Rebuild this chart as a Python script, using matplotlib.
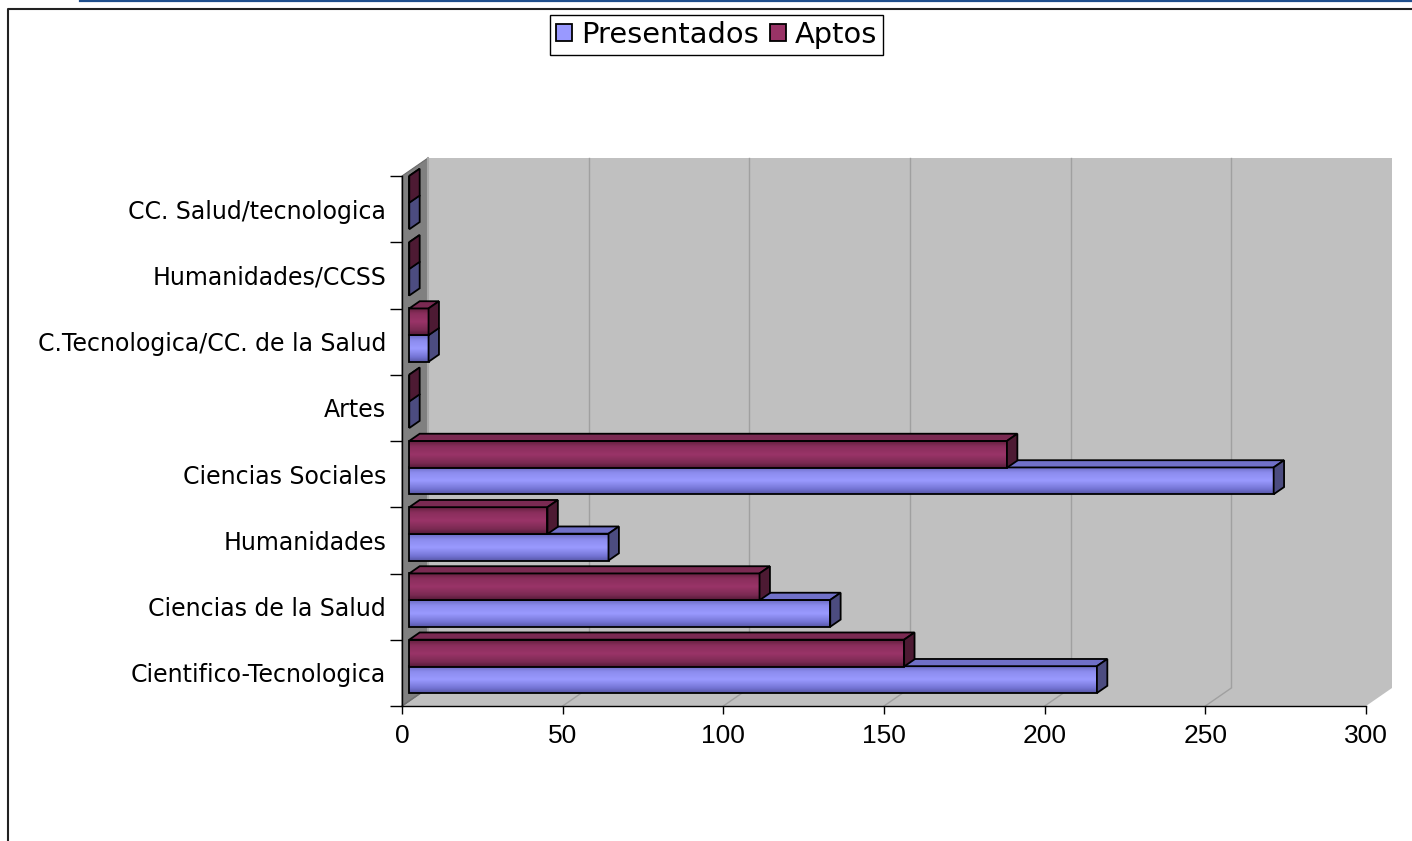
import numpy as np
import matplotlib
matplotlib.use("Agg")
import matplotlib.pyplot as plt
from matplotlib.patches import Polygon, Rectangle, Patch
from matplotlib.colors import LinearSegmentedColormap
from matplotlib.lines import Line2D

# ---------------- data ----------------
categories = ["Cientifico-Tecnologica", "Ciencias de la Salud", "Humanidades",
              "Ciencias Sociales", "Artes", "C.Tecnologica/CC. de la Salud",
              "Humanidades/CCSS", "CC. Salud/tecnologica"]
presentados = [214, 131, 62, 269, 0, 6, 0, 0]
aptos = [154, 109, 43, 186, 0, 6, 0, 0]
series_names = ["Presentados", "Aptos"]
xticks = [0, 50, 100, 150, 200, 250, 300]

# ---------------- styles ----------------
W, H = 1412, 841
fig = plt.figure(figsize=(W / 100, H / 100), dpi=100)
fig.patch.set_facecolor("white")

L, R, T, B = 402, 1366, 176, 706          # front plane, pixels
ax = fig.add_axes([L / W, 1 - B / H, (R - L) / W, (B - T) / H])
XMAX = xticks[-1]
N = len(categories)
ax.set_xlim(0, XMAX)
ax.set_ylim(-0.5, N - 0.5)
ax.patch.set_visible(False)

DX = XMAX * 26 / (R - L)     # full depth in data units
DY = N * 18 / (B - T)

wall_c = "#c0c0c0"
side_wall_c = "#808080"
grid_c = "#a0a0a0"

# back wall
ax.add_patch(Rectangle((DX, -0.5 + DY), XMAX, N, facecolor=wall_c,
                       edgecolor="none", zorder=0, clip_on=False))
# left wall
ax.add_patch(Polygon([(0, -0.5), (0, N - 0.5), (DX, N - 0.5 + DY), (DX, -0.5 + DY)],
                     closed=True, facecolor=side_wall_c, edgecolor="#6a6a6a",
                     lw=0.8, zorder=0.5, clip_on=False))
# floor
ax.add_patch(Polygon([(0, -0.5), (XMAX, -0.5), (XMAX + DX, -0.5 + DY), (DX, -0.5 + DY)],
                     closed=True, facecolor=wall_c, edgecolor="none",
                     zorder=0.4, clip_on=False))
ax.plot([0, DX], [-0.5, -0.5 + DY], color="#707070", lw=1, zorder=0.6, clip_on=False)
ax.plot([DX, DX], [-0.5 + DY, N - 0.5 + DY], color="#a8a8a8", lw=1.5, zorder=0.6,
        clip_on=False)
for xv in xticks[1:-1]:
    ax.plot([xv + DX, xv + DX], [-0.5 + DY, N - 0.5 + DY], color=grid_c, lw=1,
            zorder=0.3, clip_on=False)
    ax.plot([xv, xv + DX], [-0.5, -0.5 + DY], color=grid_c, lw=1, zorder=0.45,
            clip_on=False)

# bar colours
cmap_p = LinearSegmentedColormap.from_list(
    "p", [(0, "#5656a6"), (0.18, "#7474d4"), (0.5, "#9a9aff"), (0.8, "#8c8cee"), (1, "#6c6cc4")])
cmap_a = LinearSegmentedColormap.from_list(
    "a", [(0, "#541a38"), (0.18, "#7a2a52"), (0.5, "#9a3468"), (0.8, "#8a2e5c"), (1, "#64203f")])
styles = [
    dict(vals=presentados, off=-0.38, front="#9999ff", top="#7070c8", side="#4c4c80", cmap=cmap_p),
    dict(vals=aptos, off=0.02, front="#993366", top="#7a2a52", side="#4d1a33", cmap=cmap_a),
]
grad = np.linspace(0, 1, 64).reshape(-1, 1)

d1, d2 = 0.28, 0.68
hb = 0.405
ddx, ddy = (d2 - d1) * DX, (d2 - d1) * DY
z = 10
for i in range(N):
    for st in styles:
        v = st["vals"][i]
        x0 = d1 * DX
        y0 = i + st["off"] + d1 * DY
        y1 = y0 + hb
        bar = ax.barh(y0 + hb / 2, v, height=hb, left=x0, facecolor="none",
                      edgecolor="black", lw=1.3, zorder=z + 0.2)[0]
        if v > 0:
            im = ax.imshow(grad, extent=[x0, x0 + v, y0, y1], origin="lower",
                           aspect="auto", cmap=st["cmap"], zorder=z + 0.1,
                           interpolation="bilinear")
            im.set_clip_path(bar)
        ax.add_patch(Polygon([(x0, y1), (x0 + v, y1), (x0 + v + ddx, y1 + ddy), (x0 + ddx, y1 + ddy)],
                             closed=True, facecolor=st["top"], edgecolor="black",
                             lw=1.3, zorder=z + 0.3, clip_on=False))
        ax.add_patch(Polygon([(x0 + v, y0), (x0 + v + ddx, y0 + ddy), (x0 + v + ddx, y1 + ddy), (x0 + v, y1)],
                             closed=True, facecolor=st["side"], edgecolor="black",
                             lw=1.3, zorder=z + 0.3, clip_on=False))
        z += 1

ax.set_xlim(0, XMAX)
ax.set_ylim(-0.5, N - 0.5)

# axes / ticks
for s in ["top", "right"]:
    ax.spines[s].set_visible(False)
for s in ["left", "bottom"]:
    ax.spines[s].set_color("black")
    ax.spines[s].set_linewidth(1.0)
    ax.spines[s].set_zorder(5)

ax.set_yticks(range(N))
ax.set_yticklabels(categories, fontsize=17, family="DejaVu Sans", color="black")
ax.set_yticks(np.arange(-0.5, N, 1), minor=True)
ax.tick_params(axis="y", which="major", length=0, pad=11.5)
ax.tick_params(axis="y", which="minor", length=8.6, width=1, color="black")
ax.set_xticks(xticks)
ax.set_xticklabels([str(t) for t in xticks], fontsize=19, family="Liberation Sans")
ax.tick_params(axis="x", length=5.8, width=1, color="black", pad=7)

# legend
handles = [Patch(facecolor=styles[0]["front"], edgecolor="black", lw=1.3),
           Patch(facecolor=styles[1]["front"], edgecolor="black", lw=1.3)]
leg = fig.legend(handles, series_names, loc="center", ncol=2,
                 bbox_to_anchor=(716.5 / W, 1 - 35 / H), bbox_transform=fig.transFigure,
                 prop={"family": "DejaVu Sans", "size": 20.8}, frameon=True, fancybox=False,
                 framealpha=1, edgecolor="black", handlelength=0.55, handleheight=0.55,
                 handletextpad=0.3, columnspacing=0.4, borderpad=0.22, borderaxespad=0)
leg.get_frame().set_linewidth(1.0)

# page decorations
fig.add_artist(Line2D([80 / W, 1], [1 - 1 / H, 1 - 1 / H], color="#1f4e8c", lw=1.6,
                      transform=fig.transFigure))
fig.add_artist(Line2D([8 / W, 8 / W, 1], [0, 1 - 9 / H, 1 - 9 / H], color="#222222", lw=1.5,
                      transform=fig.transFigure))

fig.savefig("out.png", dpi=100, facecolor="white")
